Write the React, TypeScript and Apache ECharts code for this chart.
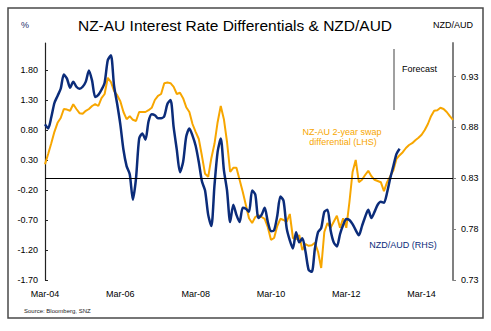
import React, { useEffect, useRef } from "react";
import * as echarts from "echarts";

// Monthly categories, Mar-04 .. Jan-15
const MONTH_NAMES = ["Jan", "Feb", "Mar", "Apr", "May", "Jun", "Jul", "Aug", "Sep", "Oct", "Nov", "Dec"];
const START_YEAR = 2004;
const START_MONTH = 2; // March
const N_MONTHS = 131;
const categories: string[] = [];
for (let i = 0; i < N_MONTHS; i++) {
  const m = (START_MONTH + i) % 12;
  const y = START_YEAR + Math.floor((START_MONTH + i) / 12);
  categories.push(`${MONTH_NAMES[m]}-${String(y % 100).padStart(2, "0")}`);
}

// NZ-AU 2-year swap differential (LHS, %), incl. forecast
const swapDiff = [
  0.23, 0.40, 0.58, 0.77, 0.92, 1.00, 1.15, 1.14, 1.12, 1.23,
  1.15, 1.08, 1.07, 1.12, 1.15, 1.20, 1.23, 1.20, 1.33, 1.40,
  1.67, 1.60, 1.45, 1.38, 1.28, 1.10, 0.98, 1.03, 0.97, 0.95,
  1.10, 1.10, 1.10, 1.13, 1.17, 1.30, 1.37, 1.40, 1.58, 1.59,
  1.58, 1.52, 1.40, 1.42, 1.33, 1.18, 1.10, 0.90, 0.77, 0.65,
  0.37, 0.07, 0.02, 0.33, 0.57, 0.93, 1.20, 0.98, 0.60, 0.10,
  0.17, 0.17, -0.03, -0.23, -0.45, -0.67, -0.75, -0.65, -0.62, -0.65,
  -0.68, -0.82, -1.03, -1.00, -0.80, -0.68, -0.70, -0.73, -0.60, -1.00,
  -1.02, -0.95, -1.20, -1.10, -1.13, -1.12, -1.08, -1.23, -1.50, -0.90,
  -0.75, -0.83, -0.73, -0.63, -0.83, -0.67, -0.83, -0.40, 0.10, 0.30,
  -0.07, -0.03, 0.05, 0.12, 0.03, -0.03, -0.05, -0.07, -0.22, -0.07,
  0.03, 0.13, 0.32, 0.38, 0.43, 0.50, 0.55, 0.58, 0.63, 0.67,
  0.72, 0.80, 0.90, 1.03, 1.12, 1.13, 1.17, 1.15, 1.10, 1.03,
  0.97,
];

// NZD/AUD (RHS)
const nzdAud = [
  0.883, 0.879, 0.890, 0.904, 0.911, 0.918, 0.932, 0.928, 0.919, 0.925,
  0.920, 0.918, 0.920, 0.925, 0.936, 0.926, 0.910, 0.912, 0.917, 0.924,
  0.946, 0.951, 0.921, 0.903, 0.883, 0.858, 0.842, 0.834, 0.809, 0.830,
  0.869, 0.874, 0.868, 0.886, 0.893, 0.892, 0.889, 0.889, 0.891, 0.903,
  0.907, 0.880, 0.858, 0.836, 0.846, 0.871, 0.879, 0.872, 0.862, 0.846,
  0.827, 0.818, 0.794, 0.783, 0.823, 0.856, 0.869, 0.838, 0.818, 0.787,
  0.804, 0.794, 0.787, 0.801, 0.800, 0.797, 0.818, 0.814, 0.791, 0.794,
  0.801, 0.787, 0.778, 0.779, 0.793, 0.812, 0.808, 0.781, 0.769, 0.761,
  0.777, 0.767, 0.771, 0.758, 0.740, 0.738, 0.761, 0.777, 0.781, 0.797,
  0.799, 0.779, 0.767, 0.763, 0.775, 0.784, 0.790, 0.789, 0.785, 0.779,
  0.774, 0.783, 0.792, 0.799, 0.791, 0.797, 0.804, 0.807, 0.806, 0.816,
  0.830, 0.842, 0.854, 0.859,
];

const LEFT_MIN = -1.7;
const LEFT_MAX = 2.25;
const LEFT_INTERVAL = 0.5;
const RIGHT_MIN = 0.73;
const RIGHT_MAX = 0.963;
const RIGHT_INTERVAL = 0.05;

const TITLE = "NZ-AU Interest Rate Differentials & NZD/AUD";
const FONT = "'Liberation Sans', Arial, Helvetica, sans-serif";
const NAVY = "#0b2c7a";
const ORANGE = "#f7a600";

export default function App() {
  const ref = useRef<HTMLDivElement>(null);
  useEffect(() => {
    if (!ref.current) return;
    const chart = echarts.init(ref.current, undefined, { renderer: "svg" });
    chart.setOption({
      animation: false,
      backgroundColor: "#ffffff",
      textStyle: { fontFamily: FONT },
      grid: { left: 45, right: 38, top: 43, bottom: 51, containLabel: false },
      xAxis: {
        type: "category",
        data: categories,
        boundaryGap: false,
        axisLine: { show: false },
        axisTick: { show: false },
        axisLabel: {
          interval: 23,
          color: "#000",
          fontSize: 9,
          fontFamily: FONT,
          margin: 9,
        },
        splitLine: { show: false },
      },
      yAxis: [
        {
          type: "value",
          position: "left",
          min: LEFT_MIN,
          max: LEFT_MAX,
          interval: LEFT_INTERVAL,
          axisLine: { show: true, lineStyle: { color: "#222", width: 1.2 } },
          axisTick: { show: true, inside: true, length: 3, lineStyle: { color: "#222" } },
          axisLabel: {
            color: "#000",
            fontSize: 9,
            fontFamily: FONT,
            margin: 7,
            showMaxLabel: false,
            formatter: (v: number) => v.toFixed(2),
          },
          splitLine: { show: false },
        },
        {
          type: "value",
          position: "right",
          min: RIGHT_MIN,
          max: RIGHT_MAX,
          interval: RIGHT_INTERVAL,
          axisLine: { show: true, lineStyle: { color: "#808080", width: 2 } },
          axisTick: { show: true, inside: false, length: 3, lineStyle: { color: "#808080" } },
          axisLabel: {
            color: "#000",
            fontSize: 9,
            fontFamily: FONT,
            margin: 8,
            showMaxLabel: false,
            formatter: (v: number) => v.toFixed(2),
          },
          splitLine: { show: false },
        },
      ],
      series: [
        {
          name: "NZ-AU 2-year swap differential (LHS)",
          type: "line",
          yAxisIndex: 0,
          data: swapDiff,
          showSymbol: false,
          symbol: "none",
          lineStyle: { color: ORANGE, width: 2 },
          itemStyle: { color: ORANGE },
          z: 2,
          markLine: {
            silent: true,
            symbol: "none",
            label: { show: false },
            lineStyle: { color: "#000", width: 1, type: "solid" },
            data: [{ yAxis: 0 }],
          },
        },
        {
          name: "NZD/AUD (RHS)",
          type: "line",
          yAxisIndex: 1,
          data: nzdAud,
          showSymbol: false,
          symbol: "none",
          smooth: 0.25,
          lineStyle: { color: NAVY, width: 2.5 },
          itemStyle: { color: NAVY },
          z: 3,
        },
      ],
      graphic: [
        {
          type: "rect",
          silent: true,
          z: 0,
          shape: { x: 8, y: 8, width: 475, height: 310 },
          style: { fill: "none", stroke: "#4a4a4a", lineWidth: 1.5 },
        },
        {
          type: "text",
          x: 235,
          y: 25,
          style: {
            text: TITLE,
            fill: "#000",
            fontSize: 15.5,
            fontFamily: FONT,
            align: "center",
            verticalAlign: "middle",
          },
        },
        {
          type: "text",
          x: 25,
          y: 25,
          style: { text: "%", fill: "#1a2a6a", fontSize: 9, fontFamily: FONT, align: "center", verticalAlign: "middle" },
        },
        {
          type: "text",
          x: 453,
          y: 25,
          style: { text: "NZD/AUD", fill: "#000", fontSize: 9, fontFamily: FONT, align: "center", verticalAlign: "middle" },
        },
        {
          type: "line",
          shape: { x1: 394, y1: 49, x2: 394, y2: 110 },
          style: { stroke: "#808080", lineWidth: 1.5 },
        },
        {
          type: "text",
          x: 402,
          y: 69,
          style: { text: "Forecast", fill: "#000", fontSize: 9, fontFamily: FONT, align: "left", verticalAlign: "middle" },
        },
        {
          type: "text",
          x: 342,
          y: 132,
          style: { text: "NZ-AU 2-year swap", fill: ORANGE, fontSize: 9, fontFamily: FONT, align: "center", verticalAlign: "middle" },
        },
        {
          type: "text",
          x: 343,
          y: 142,
          style: { text: "differential (LHS)", fill: ORANGE, fontSize: 9, fontFamily: FONT, align: "center", verticalAlign: "middle" },
        },
        {
          type: "text",
          x: 403,
          y: 245,
          style: { text: "NZD/AUD (RHS)", fill: NAVY, fontSize: 9, fontFamily: FONT, align: "center", verticalAlign: "middle" },
        },
        {
          type: "text",
          x: 24,
          y: 311,
          style: { text: "Source: Bloomberg, SNZ", fill: "#222", fontSize: 6, fontFamily: FONT, align: "left", verticalAlign: "middle" },
        },
      ],
    });
    return () => chart.dispose();
  }, []);
  return (
    <div
      ref={ref}
      style={{ position: "absolute", left: 0, top: 0, width: 491, height: 331, background: "#fff" }}
    />
  );
}
